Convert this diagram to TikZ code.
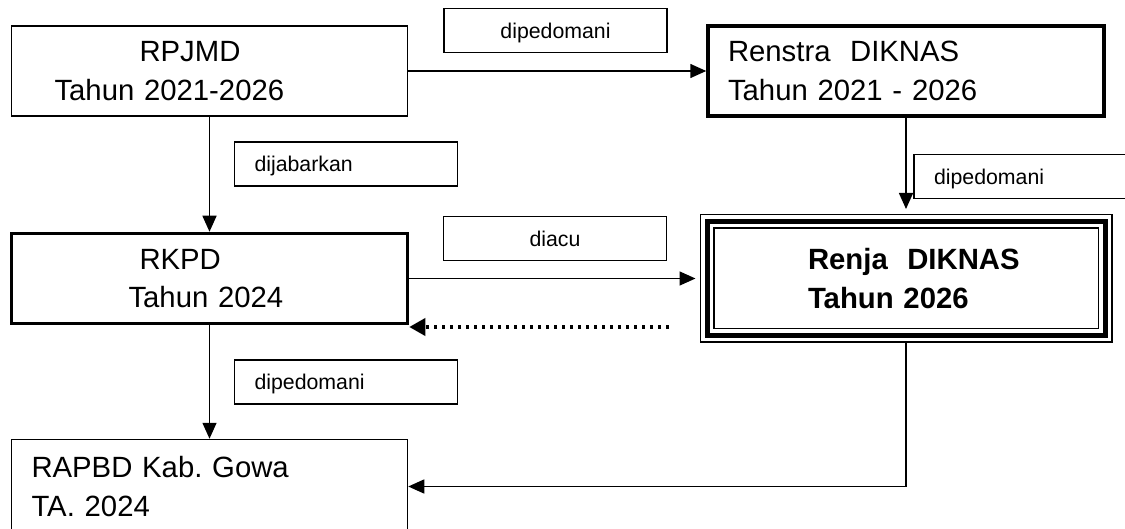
\documentclass[tikz,border=0pt]{standalone}
\usepackage{fontspec}
\setmainfont{Liberation Sans}
\frenchspacing
\usetikzlibrary{arrows.meta, positioning}

\begin{document}
\begin{tikzpicture}[
						x=1pt, y=-1pt,
						node distance={207.5pt},
						>={Triangle[length=16pt, width=14pt]},
						box/.style = {draw, line width=1.5pt, minimum width=396pt, minimum height=90pt, text width=356pt, inner xsep=20pt, align=left, font=\fontsize{29.3}{38.5}\selectfont},
						thickbox/.style = {box, line width=3.5pt},
						renjabox/.style = {box, minimum width=398pt, minimum height=114pt, line width=5pt, outer sep=7.5pt, preaction={draw, line width=15pt}, preaction={draw, white, line width=12pt}, font=\fontsize{29.3}{39}\selectfont\bfseries},
						lbl/.style = {draw, line width=1.5pt, minimum width=223pt, minimum height=44pt, text depth=0pt, font=\fontsize{21.3}{25}\selectfont},
						lblleft/.style = {lbl, text width=183pt, inner xsep=20pt, align=left},
						link/.style = {->, line width=1.5pt}
					]
\useasboundingbox (0,0) rectangle (1125,529);

\node[box] (rpjmd) at (209.5,71) {\hspace*{108pt}RPJMD\\\hspace*{23pt}Tahun 2021-2026};
\node[thickbox] (renstra) [right of=rpjmd, node distance=696.5pt] {Renstra~~DIKNAS\\Tahun 2021 - 2026};
\node[thickbox] (rkpd) [below of=rpjmd] {\hspace*{108pt}RKPD\\\hspace*{97pt}Tahun 2024};
\node[renjabox] (renja) [below of=renstra] {\hspace*{80pt}Renja~~DIKNAS\\\hspace*{80pt}Tahun 2026};
\node[box, minimum height=94pt] (rapbd) [below of=rkpd, node distance=208pt] {RAPBD Kab. Gowa\\TA. 2024};

\node[lbl] (lbltop) at (555.5,30.5) {dipedomani};
\node[lblleft] (lbljabar) at (346,164) {dijabarkan};
\node[lbl] (lblacu) at (555,238.5) {diacu};
\node[lblleft] (lblkanan) at (1025.5,176.5) {dipedomani};
\node[lblleft] (lblbawah) at (346,382) {dipedomani};

\coordinate (balik) at (669,327);

\draw[link] (rpjmd) -- (renstra);
\draw[link] (rpjmd) -- (rkpd);
\draw[link, shorten >=5pt] (renstra) -- (renja);
\draw[link, shorten >=4pt] (rkpd) -- (renja);
\draw[link] (rkpd) -- (rapbd);
\draw[link] (renja) |- (rapbd);
\draw[link, line width=3.5pt, dash pattern=on 3pt off 5pt, >={Triangle[length=16pt, width=17pt]}] (balik) -- (balik -| rkpd.east);
\end{tikzpicture}
\end{document}
